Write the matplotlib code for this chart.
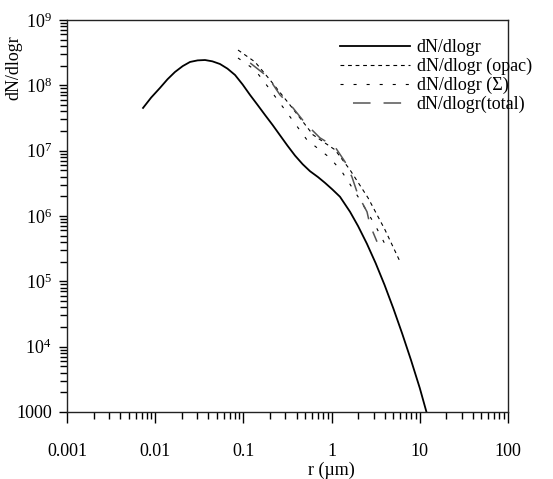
import matplotlib
matplotlib.use("Agg")
import matplotlib.pyplot as plt
from matplotlib.ticker import FixedLocator, FixedFormatter, LogLocator, NullFormatter

plt.rcParams["font.family"] = ["Liberation Serif", "DejaVu Serif"]
plt.rcParams["mathtext.fontset"] = "custom"
plt.rcParams["mathtext.rm"] = "Liberation Serif"

# solid curve dN/dlogr
r_main = [0.00728, 0.0090, 0.01132, 0.0138, 0.01675, 0.0205, 0.02483, 0.0303, 0.03673,
          0.0445, 0.0543, 0.066, 0.0804, 0.098, 0.1189, 0.145, 0.1758, 0.214, 0.260,
          0.315, 0.385, 0.470, 0.569, 0.70, 0.841, 1.02, 1.245, 1.618, 1.995, 2.512,
          3.162, 3.981, 5.012, 6.310, 7.943, 10.0, 11.9]
n_main = [4.51e7, 6.5e7, 9.12e7, 1.24e8, 1.60e8, 1.97e8, 2.28e8, 2.41e8, 2.44e8,
          2.33e8, 2.12e8, 1.80e8, 1.44e8, 1.03e8, 7.13e7, 5.0e7, 3.52e7, 2.48e7, 1.72e7,
          1.20e7, 8.4e6, 6.2e6, 4.85e6, 3.95e6, 3.22e6, 2.55e6, 1.97e6, 1.16e6, 7.02e5,
          3.77e5, 1.89e5, 8.83e4, 3.85e4, 1.59e4, 6.25e3, 2.32e3, 1.0e3]

# dN/dlogr (opac)
r_opac = [0.0869, 0.1355, 0.2004, 0.337, 0.615, 1.094, 1.617, 2.586, 4.03, 5.97]
n_opac = [3.47e8, 2.28e8, 1.21e8, 5.01e7, 1.75e7, 1.03e7, 5.08e6, 1.90e6, 6.15e5, 2.0e5]

# dN/dlogr (Sigma)
r_sig = [0.0869, 0.1355, 0.190, 0.296, 0.526, 0.959, 1.312, 2.10, 3.10, 4.35]
n_sig = [2.62e8, 1.72e8, 9.46e7, 4.21e7, 1.46e7, 7.76e6, 4.74e6, 1.77e6, 7.33e5, 3.04e5]

# dN/dlogr(total)
r_tot = [0.0914, 0.190, 0.260, 0.365, 0.499, 0.738, 1.094, 1.42, 1.70, 1.99, 2.52, 2.72, 3.27]
n_tot = [2.92e8, 1.34e8, 7.13e7, 4.51e7, 2.66e7, 1.57e7, 1.14e7, 6.75e6, 3.97e6, 2.11e6,
         1.16e6, 7.33e5, 4.04e5]

x_ticks = [0.001, 0.01, 0.1, 1, 10, 100]
x_labels = ["0.001", "0.01", "0.1", "1", "10", "100"]
y_ticks = [1e3, 1e4, 1e5, 1e6, 1e7, 1e8, 1e9]
y_labels = ["1000", r"$\mathregular{10^{4}}$", r"$\mathregular{10^{5}}$", r"$\mathregular{10^{6}}$",
            r"$\mathregular{10^{7}}$", r"$\mathregular{10^{8}}$", r"$\mathregular{10^{9}}$"]

W, H = 553, 479
fig = plt.figure(figsize=(W / 100, H / 100), dpi=100)
ax = fig.add_axes([67 / W, 1 - 412 / H, 441 / W, 392 / H])

ax.plot(r_main, n_main, color="black", lw=1.3, label="dN/dlogr")
ax.plot(r_opac, n_opac, color="black", lw=0.8, dashes=(3.4, 3.4), label="dN/dlogr (opac)")
ax.plot(r_sig, n_sig, color="black", lw=0.8, dashes=(2.75, 9), label="dN/dlogr (\u03a3)")
ax.plot(r_tot, n_tot, color="#555555", lw=1.1, linestyle=(11.5, (11.5, 8.5)),
        label="dN/dlogr(total)")

ax.set_xscale("log")
ax.set_yscale("log")
ax.set_xlim(0.001, 100)
ax.set_ylim(1e3, 1e9)

ax.xaxis.set_major_locator(FixedLocator(x_ticks))
ax.xaxis.set_major_formatter(FixedFormatter(x_labels))
ax.yaxis.set_major_locator(FixedLocator(y_ticks))
ax.yaxis.set_major_formatter(FixedFormatter(y_labels))
ax.xaxis.set_minor_locator(LogLocator(base=10, subs=range(2, 10)))
ax.yaxis.set_minor_locator(LogLocator(base=10, subs=range(2, 10)))
ax.xaxis.set_minor_formatter(NullFormatter())
ax.yaxis.set_minor_formatter(NullFormatter())

ax.tick_params(axis="x", which="major", direction="out", length=8, width=1, labelsize=13, pad=14)
ax.tick_params(axis="y", which="major", direction="out", length=6, width=1, labelsize=13, pad=5)
ax.tick_params(which="minor", direction="out", length=5, width=1)
for s in ax.spines.values():
    s.set_linewidth(1)
    s.set_color("#222222")

ax.set_xlabel("r (\u00b5m)", fontsize=13)
ax.xaxis.set_label_coords(0.6, -0.128)
ax.set_ylabel("dN/dlogr", fontsize=13)
ax.yaxis.set_label_coords(-0.102, 0.878)

ax.legend(loc="upper left", bbox_to_anchor=(340 / W, 1 - 39 / H), bbox_transform=fig.transFigure,
          frameon=False, fontsize=13, handlelength=3.9, handletextpad=0.35, labelspacing=0.1,
          borderpad=0, borderaxespad=0)

fig.savefig("out.png", dpi=100)
